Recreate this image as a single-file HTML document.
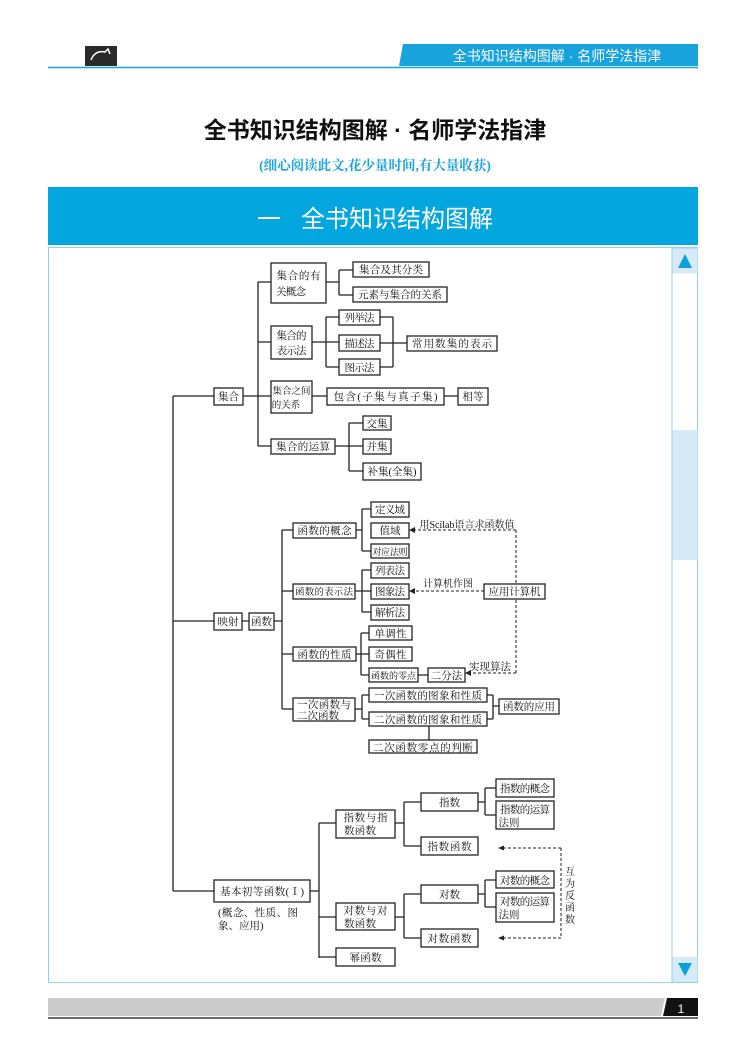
<!DOCTYPE html>
<html><head><meta charset="utf-8"><style>
html,body{margin:0;padding:0;background:#fff}
svg{display:block}
.b{fill:#fff;stroke:#222;stroke-width:1.3}
.t{font-family:"Liberation Serif","Noto Serif CJK SC",serif;font-size:10.5px;fill:#111;text-anchor:middle}
.l{stroke:#222;stroke-width:1.3;fill:none}
.d{stroke:#222;stroke-width:1;fill:none;stroke-dasharray:3,2}
</style></head><body>
<svg width="750" height="1058" viewBox="0 0 750 1058" xmlns="http://www.w3.org/2000/svg">
<rect x="85" y="46" width="32" height="20" fill="#2a2a2a"/>
<path d="M91 60 q4 -10 14 -8 l3 -3 l2 5" stroke="#fff" stroke-width="1.5" fill="none"/>
<polygon points="403,44 698,44 698,66 399,66" fill="#19a3dd"/>
<line x1="48" y1="67.5" x2="698" y2="67.5" stroke="#19a3dd" stroke-width="1.5"/>
<text x="557" y="61" font-family="Liberation Sans,'Noto Sans CJK SC',sans-serif" font-size="14" fill="#fff" text-anchor="middle">全书知识结构图解 · 名师学法指津</text>
<text x="375" y="138" font-family="Liberation Sans,'Noto Sans CJK SC',sans-serif" font-size="23" font-weight="bold" fill="#111" text-anchor="middle">全书知识结构图解 · 名师学法指津</text>
<text x="375" y="170" font-family="Liberation Serif,'Noto Serif CJK SC',serif" font-size="13.5" font-weight="bold" fill="#19a3dd" text-anchor="middle">(细心阅读此文,花少量时间,有大量收获)</text>
<rect x="48" y="187" width="650" height="58" fill="#03a6df"/>
<text x="375" y="227" font-family="Liberation Sans,'Noto Sans CJK SC',sans-serif" font-size="24" fill="#fff" text-anchor="middle" xml:space="preserve">一   全书知识结构图解</text>
<rect x="48.5" y="247.5" width="649" height="735" fill="#fff" stroke="#8fd3ef" stroke-width="1"/>
<rect x="672" y="248" width="25.5" height="734.5" fill="#fff" stroke="#8fd3ef" stroke-width="1"/>
<rect x="672.5" y="248.5" width="25" height="25" fill="#d6eaf7"/>
<polygon points="685,254 678,268 692,268" fill="#09a0dc"/>
<rect x="672.5" y="430" width="25" height="130" fill="#d6eaf7"/>
<rect x="672.5" y="957" width="25" height="25" fill="#d6eaf7"/>
<polygon points="685,976 678,963 692,963" fill="#09a0dc"/>
<polygon points="48,998 665,998 661,1016 48,1016" fill="#cbcbcb"/>
<polygon points="667,998 698,998 698,1016 663,1016" fill="#111"/>
<text x="681" y="1013" font-family="Liberation Sans,sans-serif" font-size="12" fill="#fff" text-anchor="middle">1</text>
<line x1="48" y1="1018" x2="698" y2="1018" stroke="#111" stroke-width="1.2"/>

<path class="l" d="M173 396 V891 M173 396 H214 M173 621 H214 M173 891 H214"/>
<path class="l" d="M243 396 H271 M258 282 V446 M258 282 H271 M258 342 H271 M258 446 H271"/>
<path class="l" d="M326 282 H339 M339 270 V295 M339 270 H353 M339 295 H353"/>
<path class="l" d="M312 342 H339 M326 317 V367 M326 317 H339 M326 367 H339 M380 317 H393 M380 367 H393 M393 317 V367 M380 343 H407"/>
<path class="l" d="M312 396 H327 M444 396 H458"/>
<path class="l" d="M335 446 H349 M349 423 V471 M349 423 H363 M349 446 H363 M349 471 H363"/>
<path class="l" d="M242 621 H249 M274 621 H282 M282 530 V709 M282 530 H293 M282 591 H293 M282 654 H293 M282 709 H293"/>
<path class="l" d="M356 530 H362 M362 509 V551 M362 509 H371 M362 551 H371"/>
<path class="l" d="M355 591 H362 M362 570 V612 M362 570 H371 M362 591 H371 M362 612 H371"/>
<path class="l" d="M356 654 H361 M361 633 V675 M361 633 H369 M361 654 H369 M361 675 H369 M418 675 H428"/>
<path class="l" d="M355 709 H362 M362 695 V719 M362 695 H369 M362 719 H369 M487 695 H493 M487 719 H493 M493 695 V719 M493 706 H499 M429 726 V740"/>
<path class="l" d="M310 891 H319 M319 823 V958 M319 823 H336 M319 917 H336 M319 957 H336"/>
<path class="l" d="M395 823 H404 M404 802 V846 M404 802 H421 M404 846 H421 M478 802 H485 M485 788 V815 M485 788 H496 M485 815 H496"/>
<path class="l" d="M395 917 H404 M404 894 V938 M404 894 H421 M404 938 H421 M478 894 H485 M485 880 V907 M485 880 H496 M485 907 H496"/>
<path class="d" d="M516 530 V673 M516 530 H413 M484 591 H413 M516 673 H469"/>
<polygon points="409,530 415,527 415,533" fill="#222"/>
<polygon points="409,591 415,588 415,594" fill="#222"/>
<polygon points="465,673 471,670 471,676" fill="#222"/>
<path class="d" d="M561 848 V938 M561 848 H502 M561 938 H502"/>
<polygon points="498,848 504,845.5 504,850.5" fill="#222"/>
<polygon points="498,938 504,935.5 504,940.5" fill="#222"/>
<text class="t" x="467" y="528" style="font-size:10px">用Scilab语言求函数值</text>
<text class="t" x="448" y="587" style="font-size:10px">计算机作图</text>
<text class="t" x="490" y="670" style="font-size:10.5px">实现算法</text>
<text class="t" x="570" y="875" style="font-size:10px">互</text>
<text class="t" x="570" y="887" style="font-size:10px">为</text>
<text class="t" x="570" y="899" style="font-size:10px">反</text>
<text class="t" x="570" y="911" style="font-size:10px">函</text>
<text class="t" x="570" y="923" style="font-size:10px">数</text>

<rect class="b" x="214" y="388" width="29" height="17"/><text class="t" x="228.5" y="400">集合</text>
<rect class="b" x="271" y="263" width="55" height="40"/><text class="t" x="298.5" y="279" textLength="44">集合的有</text><text class="t" x="291" y="295" textLength="30">关概念</text>
<rect class="b" x="353" y="262" width="76" height="15"/><text class="t" x="391" y="273" textLength="64">集合及其分类</text>
<rect class="b" x="353" y="287" width="94" height="15"/><text class="t" x="400" y="298" textLength="84">元素与集合的关系</text>
<rect class="b" x="271" y="326" width="41" height="33"/><text class="t" x="291.5" y="339" textLength="30">集合的</text><text class="t" x="291.5" y="354" textLength="30">表示法</text>
<rect class="b" x="339" y="310" width="41" height="15"/><text class="t" x="359.5" y="321" textLength="30">列举法</text>
<rect class="b" x="339" y="335" width="41" height="16"/><text class="t" x="359.5" y="347" textLength="30">描述法</text>
<rect class="b" x="339" y="359" width="41" height="16"/><text class="t" x="359.5" y="371" textLength="30">图示法</text>
<rect class="b" x="407" y="336" width="90" height="15"/><text class="t" x="452" y="347" textLength="80">常用数集的表示</text>
<rect class="b" x="271" y="381" width="41" height="32"/><text class="t" x="291.5" y="394" style="font-size:9.5px" textLength="38">集合之间</text><text class="t" x="286" y="408" style="font-size:9.5px">的关系</text>
<rect class="b" x="327" y="388" width="117" height="17"/><text class="t" x="385.5" y="400" textLength="104">包含(子集与真子集)</text>
<rect class="b" x="458" y="388" width="30" height="17"/><text class="t" x="473" y="400">相等</text>
<rect class="b" x="271" y="439" width="64" height="15"/><text class="t" x="303" y="450" textLength="54">集合的运算</text>
<rect class="b" x="363" y="416" width="28" height="14"/><text class="t" x="377" y="427">交集</text>
<rect class="b" x="363" y="439" width="28" height="15"/><text class="t" x="377" y="450">并集</text>
<rect class="b" x="363" y="463" width="58" height="17"/><text class="t" x="392" y="475">补集(全集)</text>
<rect class="b" x="214" y="613" width="28" height="17"/><text class="t" x="228" y="625">映射</text>
<rect class="b" x="249" y="613" width="25" height="17"/><text class="t" x="261.5" y="625">函数</text>
<rect class="b" x="293" y="523" width="63" height="15"/><text class="t" x="324.5" y="534" textLength="54">函数的概念</text>
<rect class="b" x="371" y="502" width="38" height="15"/><text class="t" x="390" y="513" textLength="30">定义域</text>
<rect class="b" x="371" y="523" width="38" height="15"/><text class="t" x="390" y="534">值域</text>
<rect class="b" x="371" y="544" width="38" height="14"/><text class="t" x="390" y="555" style="font-size:9px" textLength="35">对应法则</text>
<rect class="b" x="293" y="584" width="62" height="15"/><text class="t" x="324" y="595" style="font-size:9.5px" textLength="58">函数的表示法</text>
<rect class="b" x="371" y="563" width="38" height="15"/><text class="t" x="390" y="574" textLength="30">列表法</text>
<rect class="b" x="371" y="584" width="38" height="15"/><text class="t" x="390" y="595" textLength="30">图象法</text>
<rect class="b" x="371" y="605" width="38" height="15"/><text class="t" x="390" y="616" textLength="30">解析法</text>
<rect class="b" x="484" y="584" width="61" height="15"/><text class="t" x="514.5" y="595" textLength="52">应用计算机</text>
<rect class="b" x="293" y="647" width="63" height="14"/><text class="t" x="324.5" y="658" textLength="54">函数的性质</text>
<rect class="b" x="369" y="626" width="43" height="14"/><text class="t" x="390.5" y="637" textLength="32">单调性</text>
<rect class="b" x="369" y="647" width="43" height="14"/><text class="t" x="390.5" y="658" textLength="32">奇偶性</text>
<rect class="b" x="369" y="668" width="49" height="14"/><text class="t" x="393.5" y="679" style="font-size:9px" textLength="45">函数的零点</text>
<rect class="b" x="428" y="668" width="37" height="14"/><text class="t" x="446.5" y="679">二分法</text>
<rect class="b" x="293" y="698" width="62" height="23"/><text class="t" x="324" y="708" textLength="54">一次函数与</text><text class="t" x="318" y="719" textLength="42">二次函数</text>
<rect class="b" x="369" y="688" width="118" height="14"/><text class="t" x="428" y="699" textLength="108">一次函数的图象和性质</text>
<rect class="b" x="369" y="712" width="118" height="14"/><text class="t" x="428" y="723" textLength="108">二次函数的图象和性质</text>
<rect class="b" x="499" y="699" width="60" height="15"/><text class="t" x="529" y="710" textLength="52">函数的应用</text>
<rect class="b" x="369" y="740" width="108" height="13"/><text class="t" x="423" y="751" textLength="100">二次函数零点的判断</text>
<rect class="b" x="214" y="880" width="96" height="22"/><text class="t" x="262" y="895" textLength="84">基本初等函数(Ⅰ)</text>
<text class="t" x="218" y="916" style="text-anchor:start" textLength="80">(概念、性质、图</text>
<text class="t" x="218" y="929" style="text-anchor:start">象、应用)</text>
<rect class="b" x="336" y="810" width="59" height="28"/><text class="t" x="365.5" y="821" textLength="44">指数与指</text><text class="t" x="360" y="834" textLength="32">数函数</text>
<rect class="b" x="421" y="793" width="57" height="18"/><text class="t" x="449.5" y="806">指数</text>
<rect class="b" x="421" y="837" width="57" height="18"/><text class="t" x="449.5" y="850" textLength="44">指数函数</text>
<rect class="b" x="496" y="779" width="58" height="18"/><text class="t" x="525" y="792" textLength="50">指数的概念</text>
<rect class="b" x="496" y="801" width="58" height="28"/><text class="t" x="525" y="813" textLength="50">指数的运算</text><text class="t" x="509" y="826">法则</text>
<rect class="b" x="336" y="903" width="59" height="27"/><text class="t" x="365.5" y="914" textLength="44">对数与对</text><text class="t" x="360" y="927" textLength="32">数函数</text>
<rect class="b" x="421" y="885" width="57" height="18"/><text class="t" x="449.5" y="898">对数</text>
<rect class="b" x="421" y="929" width="57" height="18"/><text class="t" x="449.5" y="942" textLength="44">对数函数</text>
<rect class="b" x="496" y="871" width="58" height="17"/><text class="t" x="525" y="884" textLength="50">对数的概念</text>
<rect class="b" x="496" y="893" width="58" height="29"/><text class="t" x="525" y="905" textLength="50">对数的运算</text><text class="t" x="509" y="918">法则</text>
<rect class="b" x="336" y="948" width="59" height="18"/><text class="t" x="365.5" y="961" textLength="32">幂函数</text>
</svg>
</body></html>
